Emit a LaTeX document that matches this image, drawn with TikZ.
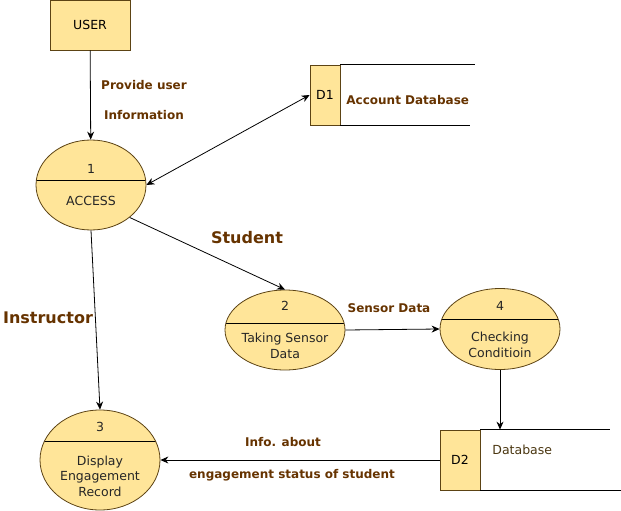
\documentclass[tikz,border=0pt]{standalone}
\usepackage{fontspec}
\usepackage{xcolor}
\usepackage{tikz}
\usetikzlibrary{shapes.geometric,arrows.meta,positioning}
\setmainfont{DejaVu Sans}
\definecolor{boxfill}{HTML}{FFE599}
\definecolor{boxline}{HTML}{5C4314}
\definecolor{labelbrown}{HTML}{663300}
\tikzset{
  every path/.style={line width=0.8pt},
  entity/.style={draw=boxline,fill=boxfill,minimum width=80pt,minimum height=50pt,font=\fontsize{12.5}{15}\selectfont},
  process/.style={ellipse,draw=boxline,fill=boxfill,inner sep=0pt,
    path picture={\draw[black] ([yshift=#1]path picture bounding box.west) -- ([yshift=#1]path picture bounding box.east);}},
  store/.style={draw=boxline,fill=boxfill,minimum width=#1,minimum height=60pt,inner sep=0pt,font=\fontsize{12.5}{15}\selectfont},
  ptext/.style={font=\fontsize{12.5}{15.5}\selectfont,align=center,inner sep=0pt,text=black!85},
  flowlabel/.style={text=labelbrown,font=\bfseries\fontsize{12}{14}\selectfont,inner sep=0pt},
  biglabel/.style={text=labelbrown,font=\bfseries\fontsize{16}{18}\selectfont,inner sep=0pt},
  flow/.style={-{Stealth[length=8pt,width=7pt]}},
}
\begin{document}
\begin{tikzpicture}[x=1pt,y=-1pt]
    \useasboundingbox (0,0) rectangle (621,511);
    % external entity
    \node[entity] (user) at (90,25) {USER};
    % processes
    \node[process=5,minimum width=110pt,minimum height=90pt] (p1) at (91,185) {};
    \node[ptext] (p1num) at (91,169) {1};
    \node[ptext] (p1name) at (91,201) {ACCESS};
    \node[process=7,minimum width=120pt,minimum height=80pt] (p2) at (285,330) {};
    \node[ptext] (p2num) at (285,306) {2};
    \node[ptext] (p2name) at (285,346) {Taking Sensor\\Data};
    \node[process=10,minimum width=120pt,minimum height=81pt] (p4) at (500,329) {};
    \node[ptext] (p4num) at (500,306) {4};
    \node[ptext] (p4name) at (500,345) {Checking\\Conditioin};
    \node[process=19,minimum width=120pt,minimum height=100pt] (p3) at (100,460) {};
    \node[ptext] (p3num) at (100,427) {3};
    \node[ptext] (p3name) at (100,476) {Display\\Engagement\\Record};
    % data stores
    \node[store=30pt] (d1) at (325,95) {D1};
    \draw (d1.north east) -- ++(135,0);
    \draw (d1.south east) -- ++(130,0);
    \node[flowlabel,anchor=west] (d1name) at (346,100) {Account Database};
    \node[store=40pt] (d2) at (460,460) {D2};
    \draw (d2.north east) -- ++(130,0);
    \draw (d2.south east) -- ++(141,0);
    \node[ptext,text=boxline!80!black,anchor=west] (d2name) at (492,450) {Database};
    % flows
    \draw[flow] (user) -- (p1);
    \draw[{Stealth[length=8pt,width=7pt]}-{Stealth[length=8pt,width=7pt]}] (p1.east) -- (d1.west);
    \draw[flow] (p1.-40) -- (p2.north);
    \draw[flow] (p1.south) -- (p3.north);
    \draw[flow] (p2.east) -- (p4.west);
    \draw[flow] (p4.south) -- (p4.south |- d2.north);
    \draw[flow] (d2.west) -- (p3.east);
    % flow labels
    \node[flowlabel] (l1) at (144,85) {Provide user};
    \node[flowlabel] (l2) at (144,115) {Information};
    \node[biglabel] (l3) at (247,238) {Student};
    \node[biglabel] (l4) at (48,318) {Instructor};
    \node[flowlabel] (l5) at (389,308) {Sensor Data};
    \node[flowlabel] (l6) at (283,442) {Info. about};
    \node[flowlabel] (l7) at (292,475) {engagement status of student};
\end{tikzpicture}
\end{document}
